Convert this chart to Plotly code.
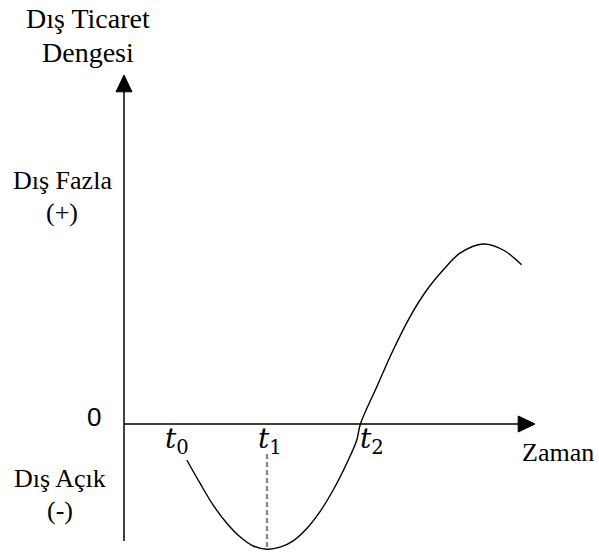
import plotly.graph_objects as go

# J-curve data (arbitrary units; 1 unit ~ 40 px)
curve_x = [1.57, 1.90, 2.23, 2.57, 2.90, 3.23, 3.58, 3.90, 4.23, 4.57, 4.90, 5.23, 5.57,
           5.82, 5.91, 6.32, 6.73, 7.15, 7.57, 7.98, 8.40, 8.98, 9.48, 9.94]
curve_y = [-0.90, -1.48, -2.03, -2.48, -2.82, -3.05, -3.13, -3.08, -2.92, -2.61, -2.19, -1.65, -0.98,
           -0.40, 0.00, 0.93, 1.85, 2.68, 3.35, 3.85, 4.27, 4.50, 4.35, 3.98]

t_labels = ["t0", "t1", "t2"]
t_positions = [1.33, 3.65, 6.2]
t1_value = 3.575
t1_min = -3.13

y_axis_bottom = -2.925
y_axis_top = 8.725
x_axis_end = 10.275
head_len = 0.42
head_half = 0.2

serif = "Liberation Serif"

fig = go.Figure()

# axes lines
fig.add_trace(go.Scatter(x=[0, 0], y=[y_axis_bottom, y_axis_top - head_len], mode="lines",
                         line=dict(color="black", width=1.5), hoverinfo="skip"))
fig.add_trace(go.Scatter(x=[0, x_axis_end - head_len], y=[0, 0], mode="lines",
                         line=dict(color="black", width=1.5), hoverinfo="skip"))

# dashed t1 line
fig.add_trace(go.Scatter(x=[t1_value, t1_value], y=[-0.75, t1_min], mode="lines",
                         line=dict(color="#8a8a8a", width=2.4, dash="5px,3px"), hoverinfo="skip"))

# curve
fig.add_trace(go.Scatter(x=curve_x, y=curve_y, mode="lines",
                         line=dict(color="black", width=1.4, shape="spline", smoothing=1.0),
                         hoverinfo="skip"))

# arrowheads
fig.add_shape(type="path",
              path=f"M {-head_half} {y_axis_top - head_len} L {head_half} {y_axis_top - head_len} L 0 {y_axis_top} Z",
              fillcolor="black", line=dict(color="black", width=1), xref="x", yref="y")
fig.add_shape(type="path",
              path=f"M {x_axis_end - head_len} {-head_half} L {x_axis_end - head_len} {head_half} L {x_axis_end} 0 Z",
              fillcolor="black", line=dict(color="black", width=1), xref="x", yref="y")

def ann(text, x, y, size=26, family=serif):
    fig.add_annotation(x=x, y=y, text=text, showarrow=False, xref="x", yref="y",
                       font=dict(family=family, size=size, color="black"),
                       xanchor="center", yanchor="middle")

ann("Dış Ticaret", -0.9, 10.15, 28)
ann("Dengesi", -0.9, 9.3, 28)
ann("Dış Fazla", -1.55, 6.1, 26)
ann("(+)", -1.55, 5.3, 26)
ann("0", -0.75, 0.17, 26, "Liberation Sans")
ann("Dış Açık", -1.6, -1.35, 26)
ann("(-)", -1.6, -2.15, 26)
ann("Zaman", 10.85, -0.72, 26)

for lab, xp in zip(t_labels, t_positions):
    ann(f"<i>{lab[0]}</i><sub>{lab[1]}</sub>", xp, -0.42, 28, "DejaVu Serif")

fig.update_layout(
    width=599, height=554,
    margin=dict(l=0, r=0, t=0, b=0),
    paper_bgcolor="white", plot_bgcolor="white",
    showlegend=False,
    xaxis=dict(range=[-3.1, 11.875], visible=False, fixedrange=True),
    yaxis=dict(range=[-3.25, 10.6], visible=False, fixedrange=True),
)

fig.write_html("out.html", config={"displayModeBar": False},
               post_script="document.body.style.margin='0';document.body.style.overflow='hidden';")
